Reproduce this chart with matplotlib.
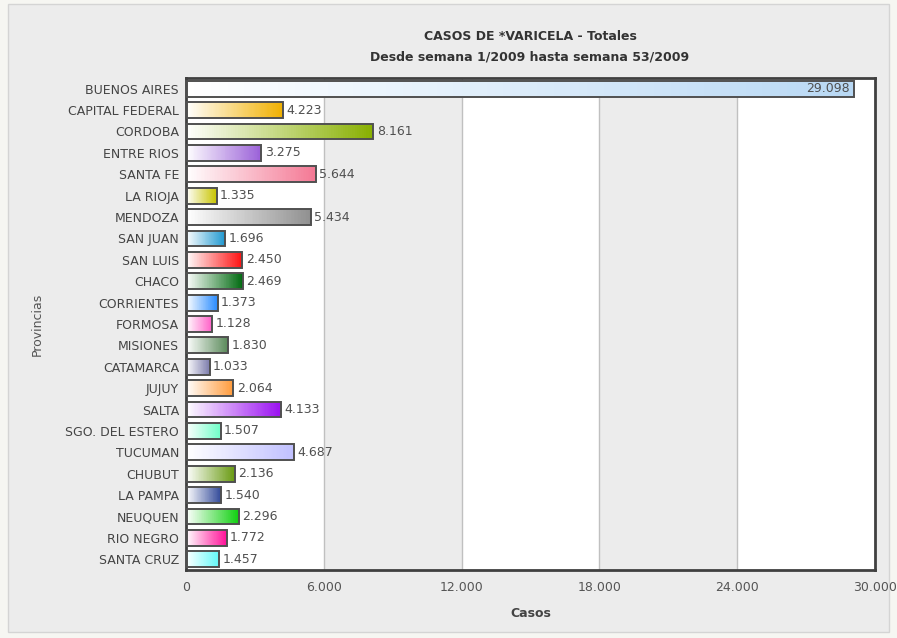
import matplotlib
matplotlib.use("Agg")
import matplotlib.pyplot as plt
import numpy as np
from matplotlib.colors import LinearSegmentedColormap
from matplotlib.patches import Rectangle
from matplotlib.ticker import FuncFormatter

provincias = ["BUENOS AIRES", "CAPITAL FEDERAL", "CORDOBA", "ENTRE RIOS", "SANTA FE",
              "LA RIOJA", "MENDOZA", "SAN JUAN", "SAN LUIS", "CHACO", "CORRIENTES",
              "FORMOSA", "MISIONES", "CATAMARCA", "JUJUY", "SALTA", "SGO. DEL ESTERO",
              "TUCUMAN", "CHUBUT", "LA PAMPA", "NEUQUEN", "RIO NEGRO", "SANTA CRUZ"]
casos = [29098, 4223, 8161, 3275, 5644, 1335, 5434, 1696, 2450, 2469, 1373,
         1128, 1830, 1033, 2064, 4133, 1507, 4687, 2136, 1540, 2296, 1772, 1457]
colores = ["#b8d8f4", "#f0b000", "#88b000", "#9a60d8", "#f47894", "#c8c400",
           "#909090", "#2098d0", "#ff1010", "#006a10", "#2a8cff", "#ff60c8",
           "#5a8a5a", "#7c7cac", "#ff9a3a", "#9a10f0", "#70ffc8", "#c0c0ff",
           "#689a10", "#304898", "#10d010", "#ff1098", "#60f8f8"]
xticks = [0, 6000, 12000, 18000, 24000, 30000]

W, H = 897, 638
fig = plt.figure(figsize=(W / 100, H / 100), dpi=100, facecolor="#f6f6f2")
fig.patches.append(Rectangle((8 / W, 6 / H), (W - 16) / W, (H - 10) / H,
                             transform=fig.transFigure, facecolor="#ececec",
                             edgecolor="#d4d4d4", lw=1, zorder=-10))

left, right, top, bottom = 186, 875, 78, 570
ax = fig.add_axes([left / W, 1 - bottom / H, (right - left) / W, (bottom - top) / H])
ax.set_zorder(1)
ax.set_facecolor("#ffffff")
n = len(provincias)

# alternating bands
for i in range(len(xticks) - 1):
    if i % 2 == 1:
        ax.axvspan(xticks[i], xticks[i + 1], facecolor="#ececec", edgecolor="none",
                   zorder=0.2)
for xt in xticks[1:-1]:
    ax.axvline(xt, color="#c0c0c0", lw=1, zorder=0.5)

h = 0.74
N = 80
frac = np.arange(N) / N
for i, (v, c) in enumerate(zip(casos, colores)):
    cmap = LinearSegmentedColormap.from_list("g%d" % i, ["#ffffff", c])
    ax.barh(np.full(N, i), np.full(N, v / N * 1.02), left=frac * v, height=h,
            color=cmap(frac + 0.5 / N), linewidth=0, zorder=2)
    ax.add_patch(Rectangle((0, i - h / 2), v, h, facecolor="none",
                           edgecolor="#505050", lw=1.4, zorder=3))
    lab = "{:,}".format(v).replace(",", ".")
    if v > 25000:
        ax.text(v - 200, i, lab, ha="right", va="center", fontsize=9, color="#505050", zorder=4)
    else:
        ax.text(v + 150, i, lab, ha="left", va="center", fontsize=9, color="#505050", zorder=4)

ax.set_xlim(0, 30000)
ax.set_ylim(n - 0.5, -0.5)
ax.set_yticks(range(n))
ax.set_yticklabels(provincias, fontsize=9, color="#444444")
ax.set_xticks(xticks)
ax.xaxis.set_major_formatter(FuncFormatter(lambda x, p: "{:,}".format(int(x)).replace(",", ".")))
ax.tick_params(axis="x", length=0, pad=8, labelsize=9, labelcolor="#555555")
ax.tick_params(axis="y", length=0, pad=5)
for s in ax.spines.values():
    s.set_color("#404040")
    s.set_linewidth(2)
ax.set_xlabel("Casos", fontsize=9, fontweight="bold", color="#444444", labelpad=9)

fig.text(37 / W, 1 - 324 / H, "Provincias", rotation=90, ha="center", va="center",
         fontsize=9, color="#555555")
fig.text(530 / W, 1 - 37 / H, "CASOS DE *VARICELA - Totales", ha="center", va="center",
         fontsize=9, fontweight="bold", color="#333333")
fig.text(530 / W, 1 - 57 / H, "Desde semana 1/2009 hasta semana 53/2009", ha="center",
         va="center", fontsize=9, fontweight="bold", color="#333333")

fig.savefig("out.png", dpi=100, facecolor=fig.get_facecolor())
